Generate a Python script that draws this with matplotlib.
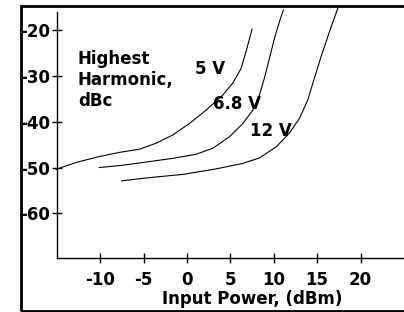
import matplotlib
matplotlib.use("Agg")
import matplotlib.pyplot as plt
from matplotlib.patches import Rectangle

# Data
x_5v = [-15.08, -12.78, -10.09, -7.79, -5.48, -3.56, -1.64, 0.28, 2.20, 4.12, 5.27, 6.23, 6.81, 7.50]
y_5v = [-50.4, -48.9, -47.6, -46.7, -46.0, -44.7, -42.9, -40.4, -37.5, -34.2, -31.6, -28.4, -24.7, -19.8]

x_68v = [-10.09, -7.40, -4.33, -1.64, 1.05, 2.97, 4.89, 6.43, 7.58, 8.35, 8.92, 9.50, 10.08, 10.65, 11.11]
y_68v = [-50.0, -49.5, -48.7, -48.0, -47.1, -45.8, -43.3, -40.4, -37.5, -34.2, -30.5, -26.2, -21.8, -18.2, -15.6]

x_12v = [-7.52, -4.33, -0.49, 3.35, 6.43, 8.35, 10.27, 11.80, 12.95, 13.91, 14.68, 15.45, 16.41, 17.37]
y_12v = [-52.9, -52.2, -51.5, -50.3, -49.1, -47.9, -45.5, -42.5, -39.3, -35.3, -30.5, -25.8, -20.4, -15.3]

series_labels = ["5 V", "6.8 V", "12 V"]
label_x = [2.72, 5.74, 9.71]
label_y = [-28.4, -36.2, -42.1]

x_ticks = [-10, -5, 0, 5, 10, 15, 20]
y_ticks = [-20, -30, -40, -50, -60]

W, H = 404, 312
fig = plt.figure(figsize=(W / 100, H / 100), dpi=100)
ax = fig.add_axes([56.7 / W, (H - 258.3) / H, 347.3 / W, 251.2 / H])

font = dict(family="DejaVu Sans", weight="bold")
fs = 12

for xs, ys in [(x_5v, y_5v), (x_68v, y_68v), (x_12v, y_12v)]:
    ax.plot(xs, ys, color="black", lw=0.8, clip_on=False)

for lab, lx, ly in zip(series_labels, label_x, label_y):
    ax.text(lx, ly, lab, ha="center", va="center", fontsize=fs, **font)

ax.text(-12.55, -24.4, "Highest\nHarmonic,\ndBc", ha="left", va="top",
        fontsize=fs, linespacing=1.2, **font)

ax.set_xlim(-15, 25)
ax.set_ylim(-69.8, -15)
ax.spines["top"].set_visible(False)
ax.spines["right"].set_visible(False)
ax.spines["left"].set_bounds(-69.8, -16)
for s in ("left", "bottom"):
    ax.spines[s].set_linewidth(1.0)

ax.set_xticks(x_ticks)
ax.set_xticklabels([str(v) for v in x_ticks], fontsize=fs, **font)
ax.set_yticks(y_ticks)
ax.set_yticklabels([str(v) for v in y_ticks], fontsize=fs, **font)
ax.tick_params(axis="x", direction="inout", length=7.5, width=1.0, pad=5.5)
ax.tick_params(axis="y", direction="inout", length=7, width=1.0, pad=1.2)

ax.set_xlabel("Input Power, (dBm)", fontsize=fs, **font)
ax.xaxis.set_label_coords((252 - 56.7) / 347.3, -31.5 / 251.2)

# outer frame
fig.add_artist(Rectangle((21 / W, 1.5 / H), 1.2, (H - 5.5) / H - 1.5 / H,
                         transform=fig.transFigure, fill=False,
                         edgecolor="black", lw=2.0))

fig.savefig("out.png", dpi=100)
